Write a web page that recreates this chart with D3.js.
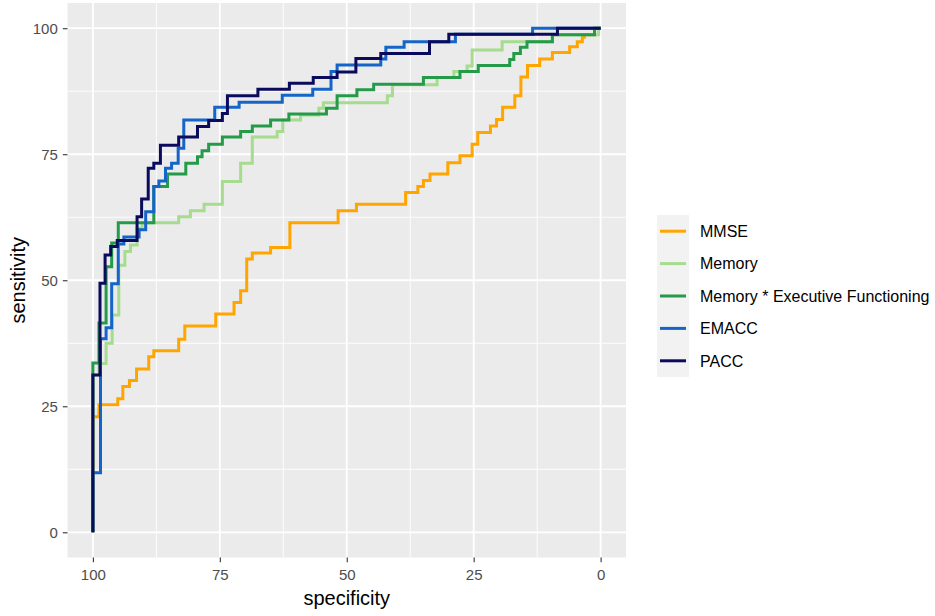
<!DOCTYPE html>
<html>
<head>
<meta charset="utf-8">
<script src="https://cdn.jsdelivr.net/npm/d3@7"></script>
<style>
  body { margin: 0; background: #fff; }
  text { font-family: "Liberation Sans", Arial, sans-serif; }
</style>
</head>
<body>
<div class="canvas"></div>
<script>
// ROC curves, [specificity, sensitivity] at each rise of the step path
const mmse = [[100,0],[100,22.9],[98.8,25.3],[95.1,26.5],[94.1,28.9],[92.8,30.1],[91.4,32.4],
  [89.0,34.8],[88.0,36.0],[83.1,38.3],[81.9,40.9],[75.8,43.3],[72.2,45.6],[70.9,47.9],[69.7,54.2],
  [68.6,55.4],[65.0,56.5],[61.2,61.4],[51.7,63.8],[48.1,65.1],[38.4,67.4],[36.0,68.6],[34.9,69.8],
  [33.6,71.1],[30.1,73.3],[27.7,74.7],[25.3,77.0],[24.2,79.3],[21.7,80.6],[20.5,81.9],[19.3,84.3],
  [16.9,86.6],[15.7,90.3],[14.4,92.6],[12.0,93.9],[9.5,95.2],[6.1,96.3],[4.6,97.3],[3.6,98.2],
  [3.2,98.7],[1.2,100],[0,100]];

const memory = [[100,0],[100,31.2],[98.8,33.5],[97.4,37.5],[96.2,43.1],[94.9,53.0],[93.7,55.7],
  [92.6,57.0],[91.3,60.3],[90.3,61.4],[83.1,62.6],[80.8,63.8],[78.1,65.1],[74.5,69.6],[70.9,73.2],
  [68.6,78.4],[63.7,79.5],[62.6,81.8],[59.1,82.8],[55.5,84.1],[54.6,85.2],[42.0,86.6],[41.0,88.8],
  [32.2,90.2],[28.9,91.4],[26.3,92.5],[25.3,95.7],[19.4,97.3],[9.5,98.7],[0.4,100],[0,100]];

const memExec = [[100,0],[100,33.6],[98.8,41.5],[97.4,52.7],[96.3,57.4],[95.0,61.4],[88.0,68.6],
  [85.3,71.1],[81.7,73.2],[79.4,74.5],[78.5,75.7],[77.2,77.0],[74.5,78.4],[70.9,79.5],[68.6,80.6],
  [65.0,81.8],[61.4,83.0],[54.0,84.1],[51.9,86.6],[48.0,87.8],[44.7,88.9],[34.9,90.2],[27.7,91.4],
  [24.1,92.6],[17.9,93.8],[17.1,95.0],[15.8,96.2],[14.5,97.3],[9.5,98.7],[1.2,100],[0,100]];

const emacc = [[100,0],[100,11.8],[98.5,38.4],[97.4,40.6],[96.3,49.3],[95.0,57.2],[93.9,58.6],
  [90.9,60.0],[89.6,63.6],[88.0,68.6],[87.0,69.7],[85.7,72.2],[84.5,73.2],[83.2,76.2],[82.1,81.8],
  [76.0,84.3],[71.2,85.3],[62.7,86.7],[56.7,87.9],[53.1,91.4],[51.9,92.7],[43.3,93.9],[42.3,96.2],
  [38.7,97.3],[28.6,98.8],[13.4,100],[0,100]];

const pacc = [[100,0],[100,31.2],[98.6,49.4],[97.6,55.0],[96.5,56.7],[95.2,57.9],[91.3,62.6],
  [90.4,66.1],[89.1,72.2],[88.0,73.2],[86.7,76.8],[83.1,78.4],[79.4,80.5],[77.2,81.7],[74.5,83.1],
  [73.5,86.6],[67.5,87.9],[61.3,89.1],[56.6,90.2],[51.9,91.3],[48.2,94.0],[43.3,95.0],[33.7,97.3],
  [29.9,98.8],[8.5,100],[0,100]];

const seriesNames = ['MMSE', 'Memory', 'Memory * Executive Functioning', 'EMACC', 'PACC'];
const seriesColours = ['#FFA500', '#A6DC8E', '#259A48', '#1565C8', '#0B0B5E'];
const seriesData = [mmse, memory, memExec, emacc, pacc];

const majorTicks = [0, 25, 50, 75, 100];
const minorTicks = [12.5, 37.5, 62.5, 87.5];

const dims = { width: 935, height: 616 };
const panel = { left: 67.5, right: 626, top: 3, bottom: 557.5 };

const svg = d3.select('.canvas')
  .append('svg')
  .attr('width', dims.width)
  .attr('height', dims.height);

const x = d3.scaleLinear().domain([105, -5]).range([panel.left, panel.right]);
const y = d3.scaleLinear().domain([-5, 105]).range([panel.bottom, panel.top]);

// panel background
svg.append('rect')
  .attr('x', panel.left).attr('y', panel.top)
  .attr('width', panel.right - panel.left)
  .attr('height', panel.bottom - panel.top)
  .attr('fill', '#ebebeb');

// grid
const grid = svg.append('g');
grid.selectAll('.vminor').data(minorTicks).enter().append('line')
  .attr('x1', d => x(d)).attr('x2', d => x(d))
  .attr('y1', panel.top).attr('y2', panel.bottom)
  .attr('stroke', '#fff').attr('stroke-width', 0.9);
grid.selectAll('.hminor').data(minorTicks).enter().append('line')
  .attr('y1', d => y(d)).attr('y2', d => y(d))
  .attr('x1', panel.left).attr('x2', panel.right)
  .attr('stroke', '#fff').attr('stroke-width', 0.9);
grid.selectAll('.vmajor').data(majorTicks).enter().append('line')
  .attr('x1', d => x(d)).attr('x2', d => x(d))
  .attr('y1', panel.top).attr('y2', panel.bottom)
  .attr('stroke', '#fff').attr('stroke-width', 1.8);
grid.selectAll('.hmajor').data(majorTicks).enter().append('line')
  .attr('y1', d => y(d)).attr('y2', d => y(d))
  .attr('x1', panel.left).attr('x2', panel.right)
  .attr('stroke', '#fff').attr('stroke-width', 1.8);

// curves
const line = d3.line()
  .x(d => x(d[0]))
  .y(d => y(d[1]))
  .curve(d3.curveStepAfter);

svg.append('g').selectAll('path')
  .data(seriesData)
  .enter().append('path')
  .attr('d', line)
  .attr('fill', 'none')
  .attr('stroke', (d, i) => seriesColours[i])
  .attr('stroke-width', 3)
  .attr('stroke-linejoin', 'miter')
  .attr('stroke-linecap', 'butt');

// axes
const xAxis = d3.axisBottom(x).tickValues(majorTicks).tickSize(4.7).tickPadding(7);
const yAxis = d3.axisLeft(y).tickValues(majorTicks).tickSize(4.7).tickPadding(5);

const gx = svg.append('g')
  .attr('transform', `translate(0,${panel.bottom})`)
  .call(xAxis);
const gy = svg.append('g')
  .attr('transform', `translate(${panel.left},0)`)
  .call(yAxis);

[gx, gy].forEach(g => {
  g.select('.domain').remove();
  g.selectAll('line').attr('stroke', '#333').attr('stroke-width', 1.1);
  g.selectAll('text')
    .attr('fill', '#4d4d4d')
    .style('font-size', '15px')
    .style('font-family', '"Liberation Sans", Arial, sans-serif');
});

svg.append('text')
  .attr('x', (panel.left + panel.right) / 2)
  .attr('y', 605)
  .attr('text-anchor', 'middle')
  .style('font-size', '20px')
  .attr('fill', '#000')
  .text('specificity');

svg.append('text')
  .attr('transform', `translate(25,${(panel.top + panel.bottom) / 2}) rotate(-90)`)
  .attr('text-anchor', 'middle')
  .style('font-size', '20px')
  .attr('fill', '#000')
  .text('sensitivity');

// legend
const legend = { x: 657, y: 215, keyW: 32, keyH: 32.4, textX: 700 };
const legendGroup = svg.append('g');

legendGroup.append('rect')
  .attr('x', legend.x).attr('y', legend.y)
  .attr('width', legend.keyW)
  .attr('height', legend.keyH * seriesNames.length)
  .attr('fill', '#f2f2f2');

const rows = legendGroup.selectAll('.row')
  .data(seriesNames)
  .enter().append('g')
  .attr('transform', (d, i) => `translate(0,${legend.y + legend.keyH * (i + 0.5)})`);

rows.append('line')
  .attr('x1', legend.x + 3).attr('x2', legend.x + legend.keyW - 3)
  .attr('y1', 0).attr('y2', 0)
  .attr('stroke', (d, i) => seriesColours[i])
  .attr('stroke-width', 3);

rows.append('text')
  .attr('x', legend.textX)
  .attr('y', 0)
  .attr('dy', '0.36em')
  .style('font-size', '16px')
  .attr('fill', '#000')
  .text(d => d);
</script>
</body>
</html>
